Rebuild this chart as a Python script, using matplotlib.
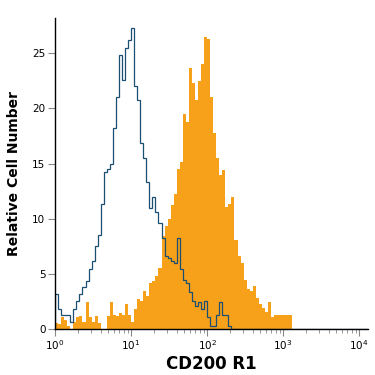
import numpy as np
import matplotlib
matplotlib.use("Agg")
import matplotlib.pyplot as plt

# log10 bin width of the histograms (decades)
bin_width = 0.04

isotype_counts = [
    3.2, 1.8, 1.3, 1.3, 1.3, 0.6, 1.8, 2.5, 3.2, 3.8,
    4.3, 5.4, 6.2, 7.5, 8.5, 11.3, 14.2, 14.5, 15.0, 18.2,
    21.0, 24.8, 22.6, 25.5, 26.2, 27.3, 22.0, 20.8, 16.9, 15.5,
    13.3, 11.0, 12.0, 10.6, 9.6, 8.2, 6.6, 6.4, 6.2, 6.0,
    8.2, 5.4, 4.4, 4.2, 3.3, 2.5, 2.1, 2.4, 1.8, 2.5,
    1.1, 0.3, 0.3, 1.3, 2.4, 1.3, 1.3, 0.3,
]

cd200r1_counts = [
    0.5, 0.4, 1.1, 0.8, 0.3, 0.0, 0.6, 1.1, 1.2, 0.6,
    2.4, 1.1, 0.6, 1.2, 0.5, 0.0, 0.0, 1.2, 2.4, 1.3,
    1.2, 1.4, 1.3, 2.3, 1.3, 0.6, 1.8, 2.7, 2.5, 3.4,
    3.0, 4.2, 4.3, 4.8, 5.5, 8.4, 9.3, 10.0, 11.2, 12.2,
    14.5, 15.1, 19.5, 18.8, 23.7, 22.3, 20.8, 22.5, 24.0, 26.5,
    26.3, 21.0, 17.8, 15.5, 14.0, 14.4, 11.1, 11.3, 12.0, 8.1,
    6.6, 6.0, 4.4, 3.6, 3.4, 3.9, 2.8, 2.3, 1.9, 1.5,
    2.4, 1.1, 1.3, 1.3, 1.3, 1.3, 1.3, 1.3,
]

n_bins = 103  # covers 10^0 .. ~10^4.1
edges = 10 ** (bin_width * np.arange(n_bins + 1))
isotype = np.pad(isotype_counts, (0, n_bins - len(isotype_counts)))
cd200r1 = np.pad(cd200r1_counts, (0, n_bins - len(cd200r1_counts)))

orange = "#f7a11a"
navy = "#1b4f72"

fig = plt.figure(figsize=(3.75, 3.75), dpi=100)
ax = fig.add_axes([0.147, 0.123, 0.835, 0.829])

ax.stairs(cd200r1, edges, fill=True, color=orange, linewidth=0)
ax.stairs(isotype, edges, color=navy, linewidth=0.9)

ax.set_xscale("log")
ax.set_xlim(1, edges[-1])
ax.set_ylim(0, 28.2)
ax.set_yticks([0, 5, 10, 15, 20, 25])
ax.set_xticks([1, 10, 100, 1000, 10000])

for s in ["top", "right"]:
    ax.spines[s].set_visible(False)
ax.spines["left"].set_linewidth(1)
ax.spines["bottom"].set_linewidth(1)

ax.tick_params(axis="both", which="major", color="#888888", length=5,
               width=0.8, labelsize=7.5, pad=2)
ax.tick_params(axis="x", which="minor", color="#888888", length=3, width=0.6)

ax.set_xlabel("CD200 R1", fontsize=12, fontweight="bold", labelpad=2)
ax.set_ylabel("Relative Cell Number", fontsize=10, fontweight="bold", labelpad=8)

fig.savefig("out.png", dpi=100)
